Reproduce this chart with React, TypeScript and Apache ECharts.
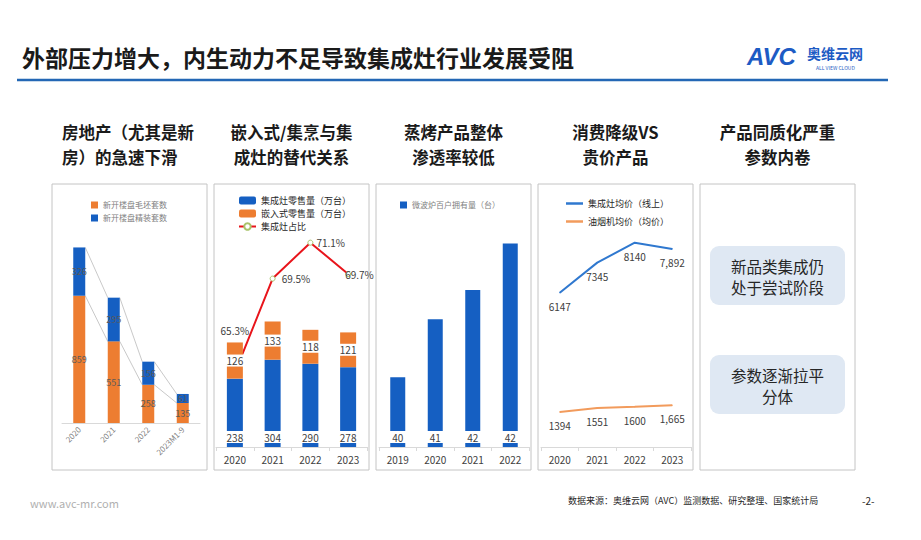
import React, { useEffect, useRef } from "react";
import * as echarts from "echarts";

// ---------- data ----------
const cats1 = ["2020", "2021", "2022", "2023M1-9"];
const roughHouses = [859, 551, 258, 135];
const finishedHouses = [326, 295, 156, 61];

const cats2 = ["2020", "2021", "2022", "2023"];
const integratedSales = [238, 304, 290, 278];
const builtInSales = [126, 133, 118, 121];
const integratedShare = [65.3, 69.5, 71.1, 69.7];

const cats3 = ["2019", "2020", "2021", "2022"];
const microwavePer100 = [40.1, 41.1, 41.6, 42.4];

const cats4 = ["2020", "2021", "2022", "2023"];
const integratedPrice = [6147, 7345, 8140, 7892];
const hoodPrice = [1394, 1551, 1600, 1665];

const headings = [
  ["房地产（尤其是新", "房）的急速下滑"],
  ["嵌入式/集烹与集", "成灶的替代关系"],
  ["蒸烤产品整体", "渗透率较低"],
  ["消费降级VS", "贵价产品"],
  ["产品同质化严重", "参数内卷"],
];
const noteBoxes = [
  ["新品类集成仍", "处于尝试阶段"],
  ["参数逐渐拉平", "分体"],
];

const TITLE = "外部压力增大，内生动力不足导致集成灶行业发展受阻";
const SOURCE = "数据来源：奥维云网（AVC）监测数据、研究整理、国家统计局";

const FONT = '"Noto Sans CJK SC", "Noto Sans", sans-serif';
const BLUE = "#155fc2";
const ORANGE = "#ed7d31";

export default function App() {
  const ref = useRef<HTMLDivElement>(null);
  useEffect(() => {
    const chart = echarts.init(ref.current!, null, { renderer: "svg" });

    const topAll = roughHouses.map((v, i) => v + finishedHouses[i]);

    const panelX = [52, 214, 376, 538, 700];
    const graphics: any[] = [];
    // title
    graphics.push({
      type: "text", x: 22, y: 57,
      style: { text: TITLE, fontSize: 23, fontWeight: "bold", fontFamily: FONT, fill: "#1a1a1a", verticalAlign: "middle" },
    });
    graphics.push({ type: "line", shape: { x1: 17, y1: 80, x2: 888, y2: 80 }, style: { stroke: "#2367b5", lineWidth: 2.5 } });
    // logo
    graphics.push({
      type: "text", x: 747, y: 56,
      style: { text: "AVC", fontSize: 24, fontWeight: "bold", fontStyle: "italic", fontFamily: "Liberation Sans, Arial", fill: "#1d5bc4", verticalAlign: "middle" },
    });
    graphics.push({
      type: "text", x: 807, y: 53,
      style: { text: "奥维云网", fontSize: 14, fontWeight: "bold", fontFamily: FONT, fill: "#1d5bc4", verticalAlign: "middle" },
    });
    graphics.push({
      type: "text", x: 816, y: 67,
      style: { text: "ALL VIEW CLOUD", fontSize: 5, fontFamily: FONT, fill: "#1d5bc4", verticalAlign: "middle" },
    });
    // panels
    panelX.forEach((x, i) => {
      graphics.push({
        type: "rect", z: -10, shape: { x, y: 184, width: 155, height: 286 },
        style: { fill: "#fff", stroke: "#c4c4c4", lineWidth: 1 },
      });
      const h = headings[i];
      const cx = x + 77.5;
      h.forEach((line, k) => {
        graphics.push({
          type: "text",
          x: i === 0 ? 62 : cx,
          y: 132 + k * 25,
          style: {
            text: line, fontSize: 16.5, fontWeight: "bold", fontFamily: FONT, fill: "#1a1a1a",
            align: i === 0 ? "left" : "center", verticalAlign: "middle",
          },
        });
      });
    });
    // note boxes in panel 5
    const boxY = [246, 355];
    noteBoxes.forEach((lines, i) => {
      graphics.push({
        type: "rect", shape: { x: 710, y: boxY[i], width: 135, height: 59, r: 9 },
        style: { fill: "#dfe8f3" },
      });
      lines.forEach((t, k) => {
        graphics.push({
          type: "text", x: 777.5, y: boxY[i] + 19.5 + k * 21,
          style: { text: t, fontSize: 15.5, fontFamily: FONT, fill: "#262626", align: "center", verticalAlign: "middle" },
        });
      });
    });
    // footer
    graphics.push({
      type: "text", x: 30, y: 503,
      style: { text: "www.avc-mr.com", fontSize: 11, fontFamily: FONT, fill: "#b0b0b0", verticalAlign: "middle" },
    });
    graphics.push({
      type: "text", x: 568, y: 500,
      style: { text: SOURCE, fontSize: 9, fontFamily: FONT, fill: "#262626", verticalAlign: "middle" },
    });
    graphics.push({
      type: "text", x: 862, y: 500,
      style: { text: "-2-", fontSize: 10, fontFamily: FONT, fill: "#262626", verticalAlign: "middle" },
    });

    const catAxisBase = {
      type: "category",
      axisLine: { lineStyle: { color: "#d9d9d9" } },
      axisTick: { show: true, lineStyle: { color: "#d9d9d9" }, length: 4 },
      axisLabel: { fontSize: 10, color: "#404040", margin: 7, fontFamily: FONT },
    };

    const option: any = {
      animation: false,
      textStyle: { fontFamily: FONT },
      graphic: { elements: graphics },
      grid: [
        { left: 62, width: 138, top: 223, height: 200 },
        { left: 216, width: 151, top: 200, height: 247 },
        { left: 379, width: 150, top: 200, height: 247 },
        { left: 541, width: 150, top: 200, height: 247 },
      ],
      legend: [
        {
          data: ["新开楼盘毛坯套数", "新开楼盘精装套数"], orient: "vertical", left: 86, top: 196,
          itemWidth: 7, itemHeight: 7, itemGap: 5, icon: "rect",
          textStyle: { fontSize: 8, color: "#7f7f7f" },
        },
        {
          data: ["集成灶零售量（万台）", "嵌入式零售量（万台）", "集成灶占比"], orient: "vertical", left: 233, top: 191,
          itemWidth: 17, itemHeight: 8, itemGap: 4,
          textStyle: { fontSize: 9, color: "#262626" },
        },
        {
          data: ["微波炉百户拥有量（台）"], left: 395, top: 196,
          itemWidth: 7, itemHeight: 7, icon: "rect",
          textStyle: { fontSize: 8, color: "#7f7f7f" },
        },
        {
          data: ["集成灶均价（线上）", "油烟机均价（均价）"], orient: "vertical", left: 561, top: 194,
          itemWidth: 17, itemHeight: 2.5, itemGap: 9, icon: "rect",
          textStyle: { fontSize: 9, color: "#262626" },
        },
      ],
      xAxis: [
        {
          ...catAxisBase, gridIndex: 0, data: cats1,
          axisTick: { show: false },
          axisLabel: { rotate: 45, fontSize: 8, color: "#7f7f7f", margin: 5, interval: 0 },
        },
        { ...catAxisBase, gridIndex: 1, data: cats2 },
        { ...catAxisBase, gridIndex: 2, data: cats3 },
        { ...catAxisBase, gridIndex: 3, data: cats4 },
      ],
      yAxis: [
        { type: "value", gridIndex: 0, min: 0, max: 1350, show: false },
        { type: "value", gridIndex: 1, min: 0, max: 860, show: false },
        { type: "value", gridIndex: 1, min: 62, max: 73, show: false },
        { type: "value", gridIndex: 2, min: 38.9, max: 43.15, startValue: 38.9, show: false },
        { type: "value", gridIndex: 3, min: 0, max: 9840, show: false },
      ],
      series: [
        // panel 1
        {
          name: "新开楼盘毛坯套数", type: "bar", stack: "p1", xAxisIndex: 0, yAxisIndex: 0,
          data: roughHouses, barWidth: 12, itemStyle: { color: ORANGE },
          label: { show: true, position: "inside", fontSize: 9, color: "#5a5a5a" },
        },
        {
          name: "新开楼盘精装套数", type: "bar", stack: "p1", xAxisIndex: 0, yAxisIndex: 0,
          data: finishedHouses, barWidth: 12, itemStyle: { color: BLUE },
          label: { show: true, position: "inside", fontSize: 9, color: "#5a5a5a" },
        },
        {
          type: "custom", xAxisIndex: 0, yAxisIndex: 0, silent: true,
          data: [[0, 0], [1, 0], [2, 0]],
          renderItem: (params: any, api: any) => {
            const i = api.value(0);
            const half = 6;
            const a1 = api.coord([i, topAll[i]]);
            const b1 = api.coord([i + 1, topAll[i + 1]]);
            const a2 = api.coord([i, roughHouses[i]]);
            const b2 = api.coord([i + 1, roughHouses[i + 1]]);
            return {
              type: "group",
              children: [
                { type: "line", shape: { x1: a1[0] + half, y1: a1[1], x2: b1[0] - half, y2: b1[1] }, style: { stroke: "#c9c9c9", lineWidth: 1 } },
                { type: "line", shape: { x1: a2[0] + half, y1: a2[1], x2: b2[0] - half, y2: b2[1] }, style: { stroke: "#c9c9c9", lineWidth: 1 } },
              ],
            };
          },
        },
        // panel 2
        {
          name: "集成灶零售量（万台）", type: "bar", stack: "p2", xAxisIndex: 1, yAxisIndex: 1,
          data: integratedSales, barWidth: 16, itemStyle: { color: BLUE }, z: 4,
          label: {
            show: true, position: "insideBottom", distance: 4, fontSize: 10, color: "#404040",
            backgroundColor: "#fff", padding: [1, 3],
          },
        },
        {
          name: "嵌入式零售量（万台）", type: "bar", stack: "p2", xAxisIndex: 1, yAxisIndex: 1,
          data: builtInSales, barWidth: 16, itemStyle: { color: ORANGE }, z: 4,
          label: {
            show: true, position: "inside", fontSize: 10, color: "#404040",
            backgroundColor: "#fff", padding: [1, 3],
          },
        },
        {
          name: "集成灶占比", type: "line", xAxisIndex: 1, yAxisIndex: 2, z: 3,
          data: integratedShare.map((v, i) => ({
            value: v,
            label:
              i === 0 ? { position: "top", distance: 34 }
              : i === 3 ? { position: "right", distance: -6 }
              : { position: "right", distance: i === 1 ? 6 : 3 },
          })),
          lineStyle: { color: "#e8141b", width: 2 },
          itemStyle: { color: "#fff", borderColor: "#a9c46c", borderWidth: 1 },
          symbol: "circle", symbolSize: 5,
          label: { show: true, formatter: "{c}%", fontSize: 10, color: "#404040" },
        },
        // panel 3
        {
          name: "微波炉百户拥有量（台）", type: "bar", xAxisIndex: 2, yAxisIndex: 3,
          data: microwavePer100, barWidth: 15, itemStyle: { color: BLUE },
          label: {
            show: true, position: "insideBottom", distance: 4, fontSize: 10, color: "#404040",
            backgroundColor: "#fff", padding: [1, 3],
            formatter: (p: any) => String(Math.round(p.value)),
          },
        },
        // panel 4
        {
          name: "集成灶均价（线上）", type: "line", xAxisIndex: 3, yAxisIndex: 4,
          data: integratedPrice, symbol: "circle", symbolSize: 1,
          lineStyle: { color: "#2f78cf", width: 2 }, itemStyle: { color: "#2f78cf" },
          label: {
            show: true, position: "bottom", distance: 8, fontSize: 10, color: "#404040",
            formatter: (p: any) => (p.dataIndex === 3 ? p.value.toLocaleString("en-US") : String(p.value)),
          },
        },
        {
          name: "油烟机均价（均价）", type: "line", xAxisIndex: 3, yAxisIndex: 4,
          data: hoodPrice, symbol: "circle", symbolSize: 1,
          lineStyle: { color: "#f29b5c", width: 2 }, itemStyle: { color: "#f29b5c" },
          label: {
            show: true, position: "bottom", distance: 8, fontSize: 10, color: "#404040",
            formatter: (p: any) => (p.dataIndex === 3 ? p.value.toLocaleString("en-US") : String(p.value)),
          },
        },
      ],
    };
    chart.setOption(option);
    return () => chart.dispose();
  }, []);
  return (
    <div
      ref={ref}
      style={{ position: "fixed", left: 0, top: 0, width: 921, height: 540, background: "#fff" }}
    />
  );
}
